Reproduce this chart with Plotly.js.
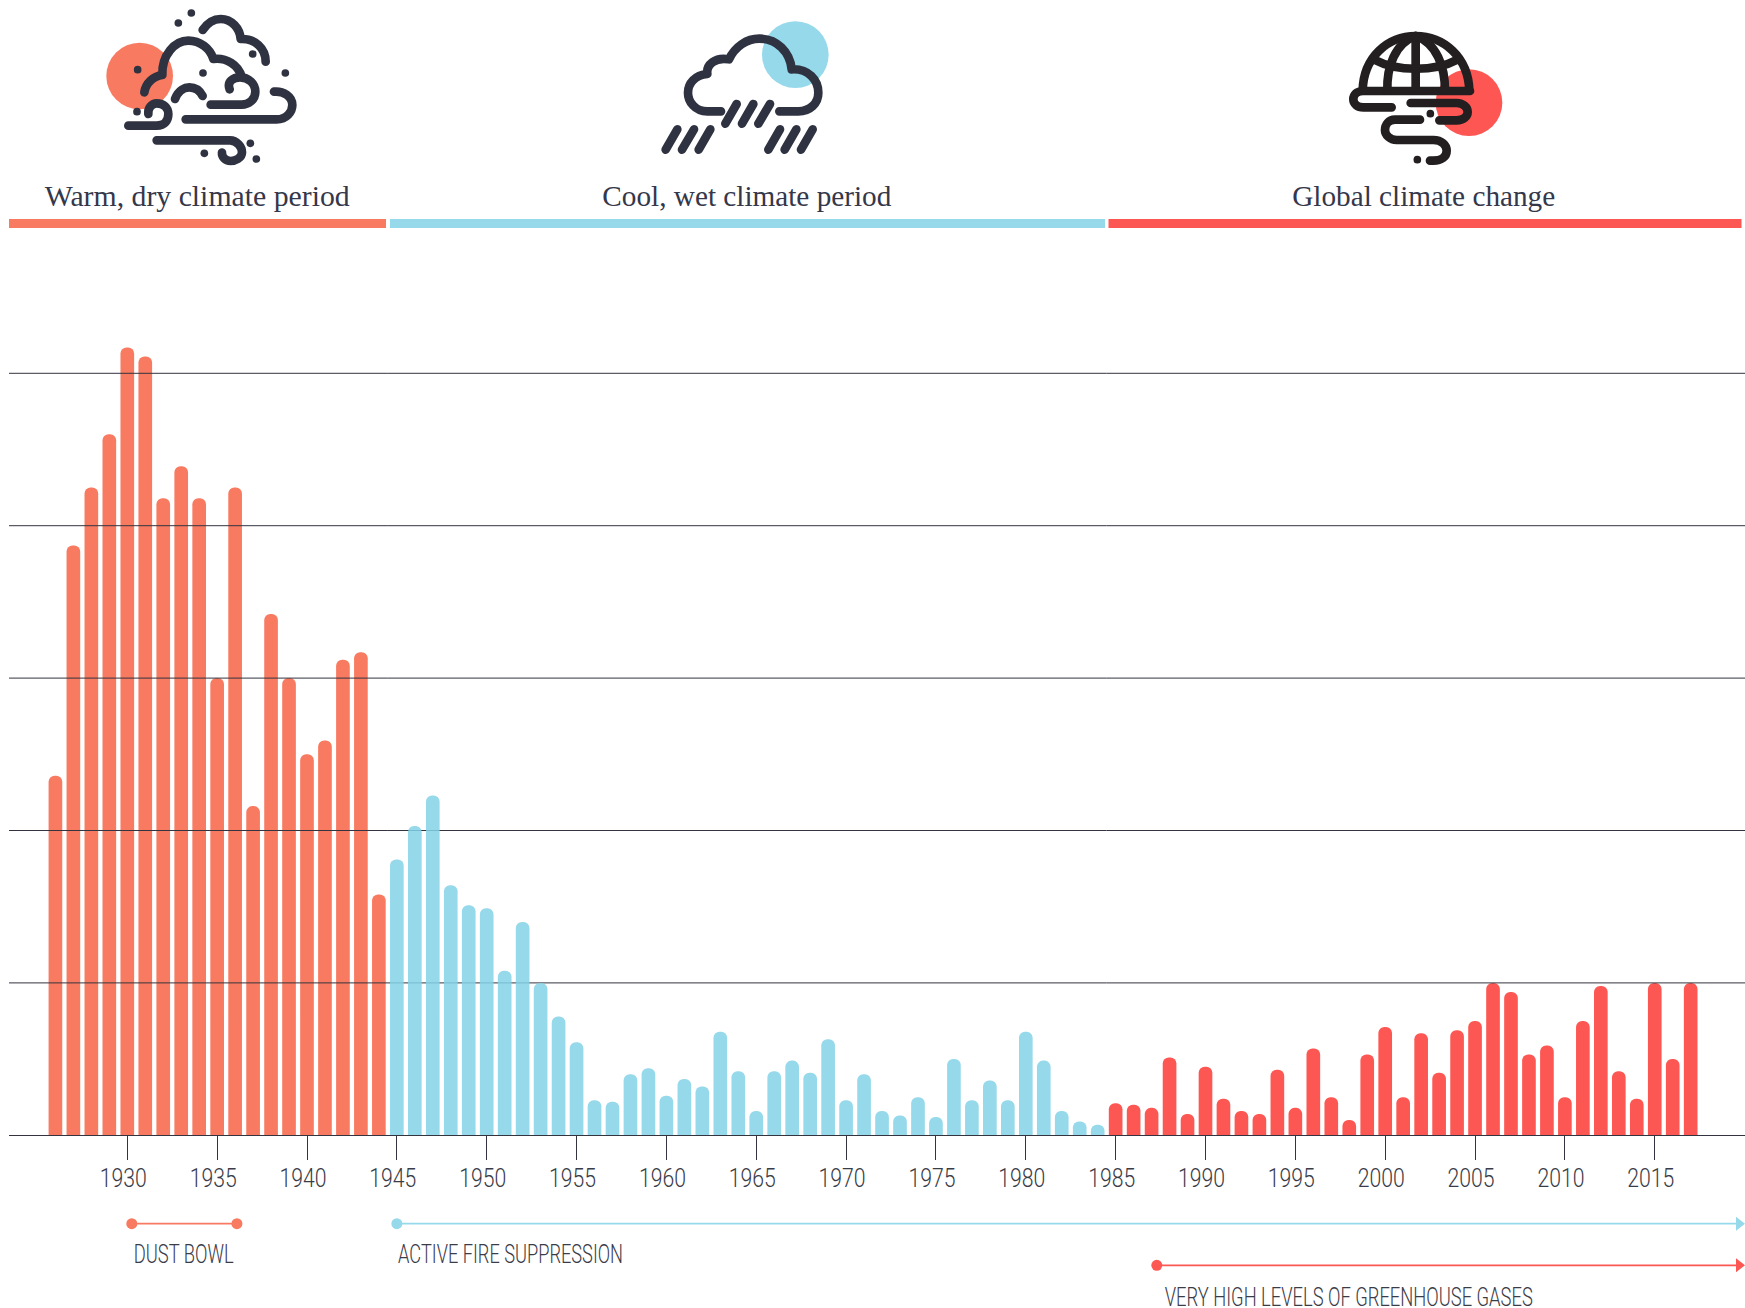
<!DOCTYPE html>
<html>
<head>
<meta charset="utf-8">
<script src="https://cdn.plot.ly/plotly-3.0.1.min.js"></script>
<style>html,body{margin:0;padding:0;background:#fff}#chart{width:1745px;height:1308px}</style>
</head>
<body>
<div id="chart"></div>
<script>
// ---- data: acres burned per year, millions ----
const warmYears = [1926,1927,1928,1929,1930,1931,1932,1933,1934,1935,1936,1937,1938,1939,1940,1941,1942,1943,1944];
const warmAcres = [23.6,38.7,42.5,46.0,51.7,51.1,41.8,43.9,41.8,30.0,42.5,21.6,34.2,30.0,25.0,25.9,31.2,31.7,15.8];
const coolYears = [1945,1946,1947,1948,1949,1950,1951,1952,1953,1954,1955,1956,1957,1958,1959,1960,1961,1962,1963,1964,1965,1966,1967,1968,1969,1970,1971,1972,1973,1974,1975,1976,1977,1978,1979,1980,1981,1982,1983,1984];
const coolAcres = [18.1,20.3,22.3,16.4,15.1,14.9,10.8,14.0,10.0,7.8,6.1,2.3,2.2,4.0,4.4,2.6,3.7,3.2,6.8,4.2,1.6,4.2,4.9,4.1,6.3,2.3,4.0,1.6,1.3,2.5,1.2,5.0,2.3,3.6,2.3,6.8,4.9,1.6,0.9,0.7];
const changeYears = [1985,1986,1987,1988,1989,1990,1991,1992,1993,1994,1995,1996,1997,1998,1999,2000,2001,2002,2003,2004,2005,2006,2007,2008,2009,2010,2011,2012,2013,2014,2015,2016,2017];
const changeAcres = [2.1,2.0,1.8,5.1,1.4,4.5,2.4,1.6,1.4,4.3,1.8,5.7,2.5,1.0,5.3,7.1,2.5,6.7,4.1,6.9,7.5,10.0,9.4,5.3,5.9,2.5,7.5,9.8,4.2,2.4,10.0,5.0,10.0];
const gridValues = [10,20,30,40,50];
const tickYears = [1930,1935,1940,1945,1950,1955,1960,1965,1970,1975,1980,1985,1990,1995,2000,2005,2010,2015];
const periodLabels = ["Warm, dry climate period","Cool, wet climate period","Global climate change"];
const eventLabels = ["DUST BOWL","ACTIVE FIRE SUPPRESSION","VERY HIGH LEVELS OF GREENHOUSE GASES"];
const dustBowlYears = [1930.25,1936.1];
const fireYears = [1945,2019.69];
const ghgYears = [1987.29,2019.69];

// ---- styling ----
const ORANGE='#F87A60', BLUE='#96D9EA', RED='#FC5753', INK='#2F3240', TXT='#3A3C48', LINE='#33343F';
const W=1745, H=1308, LEFT=9, BASE=1135.3, TOP=230, PXY=15.24, PXX=17.97, X1930=127.3;
const px=v=>(v-LEFT)/(W-LEFT), py=v=>1-v/H;
const yrAt=p=>1930+(p-X1930)/PXX;

function svgUri(w,h,body){
  return 'data:image/svg+xml;charset=utf-8,'+encodeURIComponent(
    `<svg xmlns="http://www.w3.org/2000/svg" width="${w}" height="${h}" viewBox="0 0 ${w} ${h}">${body}</svg>`);
}
const dots=(list,c)=>list.map(d=>`<circle cx="${d[0]}" cy="${d[1]}" r="11.5" fill="${c}"/>`).join('');
const strokes=(list,c)=>`<g fill="none" stroke="${c}" stroke-width="26" stroke-linecap="round" stroke-linejoin="round">`+list.map(d=>`<path d="${d}"/>`).join('')+'</g>';

const icon1=`<circle cx="419" cy="228" r="100" fill="${ORANGE}"/>`+
 strokes([
  'M608 90C625 65 645 57 662 57C695 57 720 85 722 117C765 115 797 145 797 185',
  'M433 277C437 250 460 228 487 225C485 165 525 122 565 122C600 122 630 145 640 177C680 172 715 195 725 230',
  'M689 268C680 245 700 232 720 232C745 232 766 250 766 275C766 300 745 314 725 314L632 314',
  'M525 297C535 270 555 262 568 262C585 262 600 272 608 288',
  'M385 377L470 377C495 377 505 360 505 343C505 322 490 310 470 310C455 310 443 325 445 342',
  'M557 358L830 358C860 358 877 335 877 315C877 290 850 272 822 275',
  'M470 421L690 421C710 421 726 440 726 457C726 475 705 483 692 483C675 483 665 470 666 458'
 ],INK)+
 dots([[574,39],[535,69],[758,162],[413,209],[609,219],[856,219],[411,335],[751,430],[613,460],[769,477]],INK);

const icon2=`<circle cx="526" cy="164" r="100" fill="${BLUE}"/>`+
 strokes([
  'M303 334L262 334C225 334 204 305 204 278C204 250 225 225 262 222C258 195 285 170 327 178C345 140 380 116 418 116C470 116 510 155 515 208C565 205 595 240 595 278C595 310 570 334 535 334L478 334',
  'M350 312L316 371','M400 312L366 371','M450 312L415 371',
  'M172 388L137 449','M222 388L186 449','M271 388L236 449',
  'M480 388L445 449','M529 388L494 449','M578 388L543 449'
 ],INK);

const icon3=`<circle cx="507" cy="308" r="100" fill="#FD5653"/>`+
 strokes([
  'M188 272C190 170 265 108 347 108C430 108 505 170 508 272',
  'M510 273L190 273C170 273 160 285 160 298C160 312 172 322 190 322L275 322',
  'M347 108L347 272','M347 108C285 130 260 200 262 272','M347 108C410 130 435 200 435 272',
  'M225 180C290 215 405 215 470 180',
  'M332 309L470 309C490 309 503 322 503 336C503 350 490 361 470 361L418 361',
  'M360 359L285 359C265 359 255 375 255 390C255 405 270 420 290 420L400 420C425 420 440 435 440 452C440 470 425 482 400 482L390 482'
 ],'#231F20')+dots([[391,341],[352,479]],'#231F20');

const img=(x,w,body)=>({source:svgUri(w*3,720,body),xref:'paper',yref:'paper',x:px(x),y:1,sizex:w/(W-LEFT),sizey:240/H,xanchor:'left',yanchor:'top',sizing:'stretch',layer:'above'});

const barTrace=(x,y,color,op)=>({type:'bar',x:x,y:y,width:0.76,xaxis:'x',yaxis:'y',hoverinfo:'skip',
  marker:{color:color,opacity:op,cornerradius:7,line:{width:0}}});
const eventTrace=(x,y,color,symbols,lw)=>({type:'scatter',mode:'lines+markers',x:x,y:y,xaxis:'x2',yaxis:'y2',hoverinfo:'skip',cliponaxis:false,
  line:{color:color,width:lw},marker:{color:color,opacity:1,size:symbols.map(s=>s==='circle'?11:12),symbol:symbols,line:{width:0}}});

const data=[
  barTrace(warmYears,warmAcres,ORANGE,1),
  barTrace(coolYears,coolAcres,'rgb(131,210,230)',0.85),
  barTrace(changeYears,changeAcres,RED,1),
  eventTrace(dustBowlYears,[1223.7,1223.7],ORANGE,['circle','circle'],1.8),
  eventTrace(fireYears,[1223.7,1223.7],BLUE,['circle','triangle-right'],1.8),
  eventTrace(ghgYears,[1265.3,1265.3],RED,['circle','triangle-right'],1.8)
];

const xRange=[yrAt(LEFT),yrAt(W)];
const bandShape=(x0,x1,c)=>({type:'rect',xref:'x',yref:'paper',x0:x0,x1:x1,y0:py(228),y1:py(219),fillcolor:c,line:{width:0},layer:'above'});
const gridSegs=[];
gridValues.forEach(v=>{
  const seg=(a,b,layer)=>gridSegs.push({type:'line',xref:'x',yref:'y',x0:a,x1:b,y0:v,y1:v,line:{color:LINE,width:1},layer:layer});
  seg(xRange[0],1944.5,'above');
  seg(1944.5,1984.5,'below');
  seg(1984.5,xRange[1],'above');
});

const headFont={family:'"Liberation Serif",serif',size:29.5,color:'#35374A'};
const evFont={family:'Roboto,"Liberation Sans",sans-serif',size:26,weight:300,color:TXT};
const ann=(text,x,y,font)=>({text:text,xref:'paper',yref:'paper',x:px(x),y:py(y),xanchor:'center',yanchor:'middle',showarrow:false,font:font,borderpad:0});

const layout={
  width:W,height:H,paper_bgcolor:'#fff',plot_bgcolor:'rgba(0,0,0,0)',showlegend:false,barmode:'overlay',
  margin:{l:LEFT,r:0,t:0,b:0,pad:0},
  xaxis:{domain:[0,1],range:xRange,anchor:'y',tickmode:'array',tickvals:tickYears,ticktext:tickYears.map(String),
    ticks:'outside',ticklen:24,tickwidth:1,tickcolor:LINE,showgrid:false,zeroline:false,showline:true,linecolor:LINE,linewidth:1,
    ticklabelshift:-4,ticklabelstandoff:-4,tickfont:{family:'Roboto,"Liberation Sans",sans-serif',size:25.5,weight:300,color:TXT},fixedrange:true},
  yaxis:{domain:[py(BASE),py(TOP)],range:[0,(BASE-TOP)/PXY],anchor:'x',showticklabels:false,ticks:'',
    showgrid:false,zeroline:false,showline:false,fixedrange:true},
  xaxis2:{domain:[0,1],range:xRange,anchor:'y2',visible:false,fixedrange:true},
  yaxis2:{domain:[0,py(1205)],range:[H,1205],anchor:'x2',visible:false,fixedrange:true},
  shapes:[
    bandShape(yrAt(LEFT),yrAt(386),ORANGE),
    bandShape(yrAt(390),yrAt(1105),BLUE),
    bandShape(yrAt(1108.5),yrAt(1741.5),RED),
    ...gridSegs
  ],
  images:[img(0,420,icon1),img(620,300,icon2),img(1300,300,icon3)],
  annotations:[
    ann(periodLabels[0],197,196,headFont),
    ann(periodLabels[1],747,196,headFont),
    ann(periodLabels[2],1423,196,headFont),
    ann(eventLabels[0],184.3,1254,evFont),
    ann(eventLabels[1],510.5,1254,evFont),
    ann(eventLabels[2],1348.6,1297,evFont)
  ]
};

// The original type is condensed: fit real text to the measured widths.
const textWidths={};
textWidths[periodLabels[0]]=305; textWidths[periodLabels[1]]=289; textWidths[periodLabels[2]]=263;
textWidths[eventLabels[0]]=100; textWidths[eventLabels[1]]=225; textWidths[eventLabels[2]]=368;
const TICK_W=47;
const fit=(el,w)=>{el.setAttribute('textLength',w);el.setAttribute('lengthAdjust','spacingAndGlyphs');};

Plotly.newPlot('chart',data,layout,{displayModeBar:false,staticPlot:true}).then(gd=>{
  gd.querySelectorAll('.xtick text').forEach(t=>fit(t,TICK_W));
  gd.querySelectorAll('.annotation-text').forEach(t=>{const w=textWidths[t.textContent]; if(w) fit(t,w);});
});
</script>
</body>
</html>
